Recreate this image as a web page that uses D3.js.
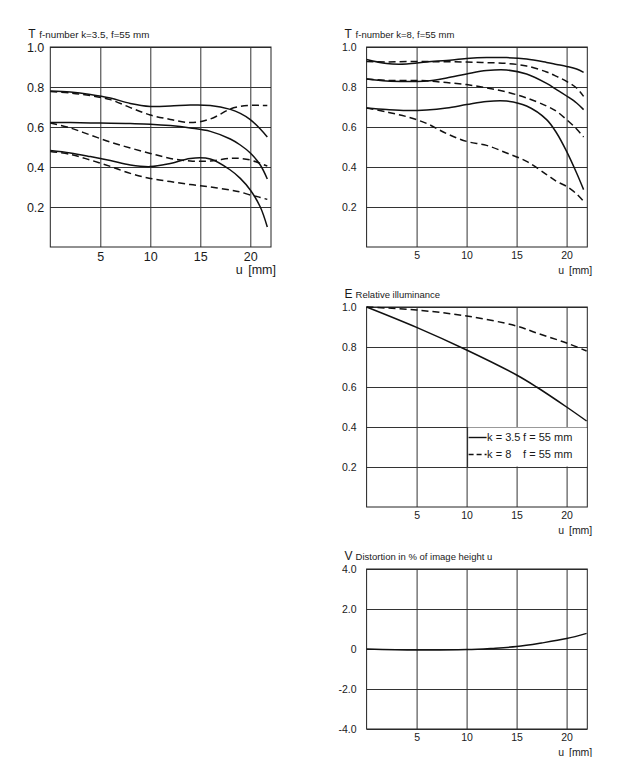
<!DOCTYPE html>
<html>
<head>
<meta charset="utf-8">
<script src="https://cdn.jsdelivr.net/npm/d3@7"></script>
<style>
  body { margin: 0; background: #fff; }
  svg { display: block; }
  text { font-family: "Liberation Sans", Arial, sans-serif; fill: #1a1a1a; }
</style>
</head>
<body>
<svg id="chart" width="620" height="757"></svg>
<script>
// u positions (mm) for the transmission curves
const uT = [0, 2, 4, 6, 8, 10, 12, 14, 16, 18, 19, 20, 21, 21.7]

// T, f-number k=3.5
const k35Solid1 = [0.78, 0.775, 0.763, 0.745, 0.718, 0.703, 0.705, 0.71, 0.708, 0.688, 0.668, 0.637, 0.59, 0.55]
const k35Dash1  = [0.777, 0.77, 0.757, 0.737, 0.697, 0.66, 0.638, 0.622, 0.64, 0.69, 0.703, 0.708, 0.708, 0.707]
const k35Solid2 = [0.623, 0.622, 0.62, 0.619, 0.617, 0.614, 0.607, 0.595, 0.578, 0.54, 0.51, 0.47, 0.41, 0.34]
const k35Dash2  = [0.62, 0.595, 0.56, 0.525, 0.495, 0.468, 0.443, 0.43, 0.43, 0.443, 0.443, 0.435, 0.418, 0.405]
const k35Solid3 = [0.482, 0.47, 0.452, 0.432, 0.41, 0.402, 0.418, 0.443, 0.44, 0.385, 0.343, 0.285, 0.2, 0.1]
const k35Dash3  = [0.478, 0.463, 0.435, 0.403, 0.368, 0.343, 0.327, 0.312, 0.3, 0.285, 0.275, 0.26, 0.248, 0.238]

// T, f-number k=8
const k8Solid1 = [0.937, 0.917, 0.915, 0.925, 0.933, 0.942, 0.947, 0.947, 0.94, 0.923, 0.913, 0.903, 0.89, 0.873]
const k8Dash1  = [0.928, 0.925, 0.927, 0.927, 0.926, 0.925, 0.922, 0.918, 0.905, 0.875, 0.853, 0.828, 0.795, 0.753]
const k8Solid2 = [0.84, 0.83, 0.828, 0.83, 0.845, 0.865, 0.882, 0.885, 0.865, 0.818, 0.787, 0.755, 0.72, 0.687]
const k8Dash2  = [0.84, 0.833, 0.833, 0.831, 0.822, 0.812, 0.796, 0.775, 0.745, 0.705, 0.678, 0.637, 0.59, 0.55]
const k8Solid3 = [0.695, 0.687, 0.682, 0.685, 0.695, 0.712, 0.728, 0.73, 0.705, 0.637, 0.57, 0.478, 0.37, 0.287]
const k8Dash3  = [0.695, 0.675, 0.652, 0.618, 0.567, 0.528, 0.508, 0.47, 0.428, 0.362, 0.328, 0.303, 0.265, 0.228]

// E, relative illuminance
const uE = [0, 5, 10, 15, 17, 20, 22]
const eK35 = [1.0, 0.898, 0.785, 0.66, 0.6, 0.5, 0.43]
const eK8  = [1.0, 0.985, 0.955, 0.905, 0.87, 0.82, 0.78]

// V, distortion
const uV = [0, 5, 10, 12.5, 15, 17.5, 20, 22]
const vDist = [0, -0.05, -0.03, 0.03, 0.12, 0.3, 0.52, 0.78]

// ticks
const uTicks = [5, 10, 15, 20]
const tTicks = [0.2, 0.4, 0.6, 0.8, 1.0]
const vTicks = [-4, -2, 0, 2, 4]
const vLabels = ["-4.0", "-2.0", "0", "2.0", "4.0"]

const svg = d3.select("#chart")
const ink = "#1c1c1c"

const drawChart = (o) => {
    const x = d3.scaleLinear().domain([0, 22.07]).range([o.left, o.left + 220.7])
    const y = d3.scaleLinear().domain(o.yDomain).range([o.bottom, o.top])
    const w = 220.7, h = o.bottom - o.top
    const g = svg.append("g")

    // horizontal grid + y labels
    const ya = g.append("g")
        .attr("transform", `translate(${o.left},0)`)
        .call(d3.axisLeft(y).tickValues(o.yTicks).tickSize(-w).tickPadding(o.gap)
            .tickFormat((d, i) => o.yLabels[i]))
    ya.select(".domain").remove()
    ya.selectAll("line").attr("stroke", "#333").attr("stroke-width", 1)
    ya.selectAll("text").attr("font-size", o.fs).attr("fill", ink)
        .attr("font-family", "Liberation Sans, Arial, sans-serif")

    // vertical grid + x labels
    const xa = g.append("g")
        .attr("transform", `translate(0,${o.bottom})`)
        .call(d3.axisBottom(x).tickValues(uTicks).tickSize(-h).tickPadding(5))
    xa.select(".domain").remove()
    xa.selectAll("line").attr("stroke", "#333").attr("stroke-width", 1)
    xa.selectAll("text").attr("font-size", o.fs).attr("fill", ink)
        .attr("font-family", "Liberation Sans, Arial, sans-serif")

    // frame
    g.append("rect")
        .attr("x", o.left).attr("y", o.top).attr("width", w).attr("height", h)
        .attr("fill", "none").attr("stroke", "#222").attr("stroke-width", 1)

    // symbol + title
    g.append("text").attr("x", o.left - 22).attr("y", o.top - 9)
        .attr("font-size", 12).text(o.symbol)
    g.append("text").attr("x", o.left - 11).attr("y", o.top - 9)
        .attr("font-size", o.titleFs || 9.5).text(o.title)

    g.append("text").attr("x", o.left + w + 5).attr("y", o.bottom + 27)
        .attr("text-anchor", "end").attr("font-size", o.fs).attr("word-spacing", 2)
        .text("u [mm]")

    if (o.legend) o.legend(g, x, y)

    const line = d3.line()
        .x(d => x(d[0])).y(d => y(d[1]))
        .curve(d3.curveCatmullRom.alpha(0.5))

    o.series.forEach(s => {
        g.append("path")
            .datum(s.u.map((u, i) => [u, s.v[i]]))
            .attr("d", line)
            .attr("fill", "none")
            .attr("stroke", "#111")
            .attr("stroke-width", 1.5)
            .attr("stroke-dasharray", s.dash ? "7,4" : null)
    })
}

drawChart({
    left: 50.3, top: 47, bottom: 247, yDomain: [0, 1],
    yTicks: tTicks, yLabels: tTicks.map(d => d.toFixed(1)), gap: 6, fs: 12.5,
    symbol: "T", title: "f-number k=3.5, f=55 mm", titleFs: 9.8,
    series: [
        { u: uT, v: k35Solid1 }, { u: uT, v: k35Dash1, dash: true },
        { u: uT, v: k35Solid2 }, { u: uT, v: k35Dash2, dash: true },
        { u: uT, v: k35Solid3 }, { u: uT, v: k35Dash3, dash: true }
    ]
})

drawChart({
    left: 366.6, top: 47, bottom: 247, yDomain: [0, 1],
    yTicks: tTicks, yLabels: tTicks.map(d => d.toFixed(1)), gap: 10, fs: 10.5,
    symbol: "T", title: "f-number k=8, f=55 mm",
    series: [
        { u: uT, v: k8Solid1 }, { u: uT, v: k8Dash1, dash: true },
        { u: uT, v: k8Solid2 }, { u: uT, v: k8Dash2, dash: true },
        { u: uT, v: k8Solid3 }, { u: uT, v: k8Dash3, dash: true }
    ]
})

drawChart({
    left: 366.6, top: 307, bottom: 507, yDomain: [0, 1],
    yTicks: tTicks, yLabels: tTicks.map(d => d.toFixed(1)), gap: 10, fs: 10.5,
    symbol: "E", title: "Relative illuminance",
    series: [{ u: uE, v: eK35 }, { u: uE, v: eK8, dash: true }],
    legend: (g, x, y) => {
        const lx = x(10) + 1, ty = y(0.4), by = y(0.2)
        g.append("rect").attr("x", lx).attr("y", ty + 0.5)
            .attr("width", x(22.07) - lx - 0.5).attr("height", by - ty - 1)
            .attr("fill", "#fff")
        g.append("line").attr("x1", lx).attr("x2", lx).attr("y1", ty).attr("y2", by)
            .attr("stroke", "#222")
        const rows = [["k = 3.5", null], ["k = 8", "5,3"]]
        rows.forEach((r, i) => {
            const yy = ty + 10.5 + i * 17
            g.append("line").attr("x1", lx + 1).attr("x2", lx + 19)
                .attr("y1", yy).attr("y2", yy)
                .attr("stroke", "#111").attr("stroke-width", 1.4)
                .attr("stroke-dasharray", r[1])
            g.append("text").attr("x", lx + 19.5).attr("y", yy + 3.5)
                .attr("font-size", 11).text(r[0])
            g.append("text").attr("x", lx + 55.5).attr("y", yy + 3.5)
                .attr("font-size", 11).text("f = 55 mm")
        })
    }
})

drawChart({
    left: 366.6, top: 569, bottom: 729, yDomain: [-4, 4],
    yTicks: vTicks, yLabels: vLabels, gap: 10, fs: 10.5, titleFs: 9.5,
    symbol: "V", title: "Distortion in % of image height u",
    series: [{ u: uV, v: vDist }]
})
</script>
</body>
</html>
